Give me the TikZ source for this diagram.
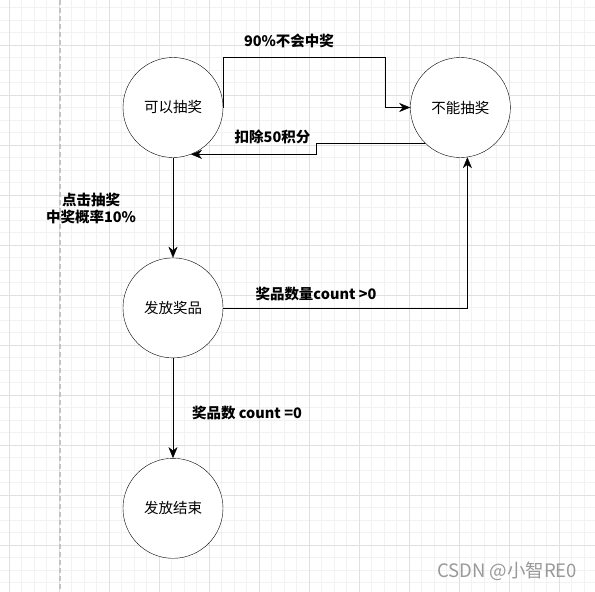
\documentclass[tikz,border=0pt]{standalone}
\usepackage{fontspec}
\setmainfont{Noto Sans CJK SC}
\usetikzlibrary{
  arrows.meta,  % Tip "Stealth" with sizes
  positioning   % Function "of" (e.g. [right=of x])
}
\definecolor{gridmajor}{HTML}{E0E0E0}
\definecolor{gridminor}{HTML}{F2F2F2}
\definecolor{guide}{HTML}{C4C4C4}
\def\mysize{100pt}
\def\myvdist{100pt}
\def\myhdist{187pt}
\tikzset{
  font=\fontsize{14.5}{17}\selectfont,
  line width=1.4pt,
  >={Stealth[length=11pt,width=9pt,inset=3.5pt]},
  my state/.style={
    draw,
    circle,
    fill=white,
    minimum size=\mysize,
    inner sep=0pt
  },
  my label/.style={
    font=\fontsize{14.5}{17}\selectfont\bfseries,
    align=center
  },
  minor line/.style={draw=gridminor,line width=0.8pt},
  major line/.style={draw=gridmajor,line width=0.8pt},
  guide line/.style={draw=guide,line width=1.2pt,dash pattern=on 5pt off 3pt}
}

\begin{document}
\begin{tikzpicture}[x=1pt,y=-1pt]
\fill[white] (0,0) rectangle (595,592);
\useasboundingbox (0,0) rectangle (595,592);
% grid
\foreach \k in {0,...,46} {
  \draw[minor line] ({9.3+12.5*\k},0) -- ++(0,592);
  \draw[minor line] (0,{7.5+12.5*\k}) -- ++(595,0);
}
\foreach \k in {0,...,11} \draw[major line] ({9.3+50*\k},0) -- ++(0,592);
\foreach \k in {0,...,10} \draw[major line] (0,{45+50*\k}) -- ++(595,0);
\draw[guide line] (60,0) -- (60,592);
% states
\node[my state] (can) at (173,107.5) {可以抽奖};
\node[my state] (cannot) [right=\myhdist of can] {不能抽奖};
\node[my state] (issue) [below=\myvdist of can] {发放奖品};
\node[my state] (done) [below=\myvdist of issue] {发放结束};
% transitions
\draw[->] (can.east) -- ++(0,-50) -| ([xshift=-25pt]cannot.west) -- (cannot.west);
\draw[->] (cannot.225) -- ++(-109,0) |- (can.-69);
\draw[->] (can) -- (issue);
\draw[->] (issue.east) -| (cannot.-82);
\draw[->] (issue) -- (done);
% labels
\node[my label] (lose) at (289,41) {90\%不会中奖};
\node[my label] (minus) at (272.5,137) {扣除50积分};
\node[my label] (click) at (91,208.5) {点击抽奖\\中奖概率10\%};
\node[my label] (more) at (316,294) {奖品数量count >0};
\node[my label] (zero) at (247,413) {奖品数 count =0};
\node[text=black!40,font=\fontsize{18.5}{22}\selectfont] (mark) at (507,571) {CSDN @小智RE0};
\end{tikzpicture}
\end{document}
